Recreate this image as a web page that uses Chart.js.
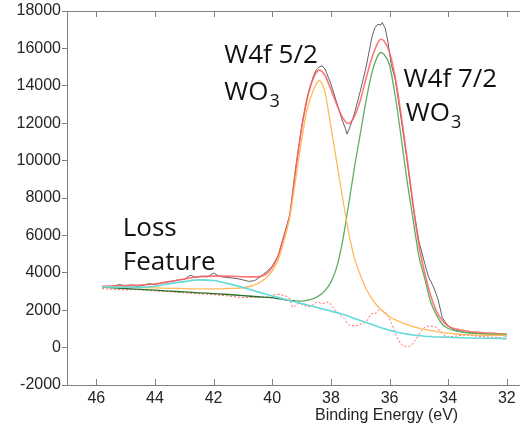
<!DOCTYPE html>
<html>
<head>
<meta charset="utf-8">
<script src="https://cdn.jsdelivr.net/npm/chart.js@4/dist/chart.umd.min.js"></script>
<style>
  html, body { margin: 0; padding: 0; background: #fff; overflow: hidden; }
</style>
</head>
<body>
<canvas id="chart" width="520" height="432"></canvas>
<script>
// tick labels
const xTicks = [46, 44, 42, 40, 38, 36, 34, 32]
const yTicks = [-2000, 0, 2000, 4000, 6000, 8000, 10000, 12000, 14000, 16000, 18000]

// raw spectrum (black)
const rawE = [45.8, 45.6, 45.4, 45.2, 45.0, 44.8, 44.6, 44.4, 44.2, 44.0, 43.8, 43.6, 43.4, 43.2, 43.0,
  42.8, 42.6, 42.4, 42.2, 42.0, 41.8, 41.6, 41.4, 41.2, 41.0, 40.8, 40.6, 40.4, 40.2, 40.0,
  39.8, 39.6, 39.4, 39.2, 39.0, 38.8, 38.6, 38.5, 38.4, 38.3, 38.2, 38.0, 37.8, 37.6, 37.5,
  37.45, 37.35, 37.2, 37.0, 36.8, 36.6, 36.5, 36.4, 36.3, 36.25, 36.15, 36.05, 35.95, 35.8, 35.6,
  35.4, 35.2, 35.0, 34.8, 34.67, 34.5, 34.35, 34.2, 34.0, 33.8, 33.6, 33.4, 33.2, 33.0, 32.8,
  32.6, 32.4, 32.2, 32.0]
const rawI = [3240, 3220, 3300, 3370, 3280, 3350, 3260, 3330, 3420, 3380, 3450, 3510, 3560, 3620, 3640,
  3870, 3760, 3820, 3790, 3990, 3800, 3760, 3730, 3690, 3620, 3540, 3580, 3800, 4050, 4350,
  4900, 6000, 7100, 9600, 11800, 13400, 14500, 14850, 15000, 15070, 14900, 14100, 13100, 12100, 11700,
  11420, 11800, 12500, 13700, 15000, 16600, 17100, 17290, 17250, 17380, 17100, 16300, 15200, 14300, 12200,
  10000, 7600, 5700, 4500, 3780, 3250, 2600, 1600, 1150, 950, 880, 820, 790, 780, 740,
  700, 690, 650, 620]

// fitted curves, shared energy grid
const fitE = [45.8, 45, 44.5, 44, 43.5, 43, 42.5, 42, 41.5, 41, 40.5, 40.2, 40, 39.8, 39.6, 39.4,
  39.2, 39, 38.8, 38.6, 38.4, 38.2, 38, 37.8, 37.6, 37.4, 37.2, 37, 36.8, 36.6, 36.4, 36.3,
  36.2, 36, 35.8, 35.6, 35.4, 35.2, 35, 34.8, 34.6, 34.4, 34.2, 34, 33.6, 33.2, 32.6, 32]
const envelope = [3280, 3320, 3350, 3400, 3530, 3670, 3790, 3820, 3820, 3790, 3780, 3950, 4300, 4900, 5950, 7100,
  9500, 11700, 13400, 14400, 14840, 14550, 13800, 13000, 12300, 11980, 12350, 13200, 14400, 15500, 16300, 16490,
  16420, 15800, 14400, 12400, 10100, 7700, 5500, 4000, 2800, 1950, 1450, 1150, 950, 850, 780, 720]
const w52 = [3250, 3230, 3210, 3190, 3170, 3150, 3140, 3140, 3160, 3200, 3420, 3750, 4100, 4700, 5700, 7000,
  9000, 11100, 12800, 13750, 14270, 13650, 11800, 9900, 8000, 6200, 4800, 3900, 3150, 2600, 2200, 2050,
  1900, 1650, 1480, 1350, 1230, 1120, 1040, 970, 910, 860, 810, 770, 710, 680, 660, 650]
const w72 = [3240, 3160, 3110, 3070, 3020, 2980, 2930, 2890, 2840, 2780, 2720, 2690, 2670, 2620, 2570, 2530,
  2500, 2480, 2520, 2620, 2780, 3050, 3500, 4300, 5700, 7600, 9600, 11400, 13200, 14700, 15600, 15780,
  15700, 15100, 13400, 11200, 8900, 6900, 4900, 3700, 2450, 1750, 1250, 1020, 850, 770, 720, 700]
const loss = [3240, 3240, 3220, 3280, 3420, 3530, 3620, 3590, 3420, 3220, 2980, 2850, 2760, 2680, 2600, 2520,
  2440, 2360, 2280, 2200, 2110, 2030, 1950, 1870, 1780, 1680, 1560, 1450, 1340, 1230, 1120, 1070,
  1020, 930, 850, 780, 720, 670, 640, 610, 590, 570, 560, 550, 530, 510, 500, 490]

// residual (red dotted)
const resE = [45.8, 45.4, 45.0, 44.6, 44.2, 44.0, 43.5, 43.0, 42.5, 42.0, 41.5, 41.0, 40.5, 40.2, 40.0,
  39.8, 39.6, 39.4, 39.3, 39.1, 38.9, 38.75, 38.6, 38.45, 38.3, 38.1, 37.9, 37.7, 37.55, 37.37,
  37.16, 37.0, 36.8, 36.6, 36.45, 36.37, 36.15, 35.93, 35.7, 35.5, 35.35, 35.12, 34.9, 34.67, 34.4,
  34.22, 33.98, 33.7, 33.42, 32.96, 32.6, 32.28, 32.06]
const resI = [3150, 3120, 3090, 3100, 3060, 3030, 2990, 2930, 2880, 2830, 2760, 2680, 2700, 2700, 2800,
  2850, 2780, 2600, 2150, 2360, 2250, 2180, 2300, 2440, 2350, 2440, 2090, 1750, 1560, 1200,
  1180, 1250, 1380, 1820, 1850, 2000, 1910, 1290, 400, 80, 50, 400, 930, 1150, 1080,
  760, 580, 620, 670, 610, 560, 540, 440]

const pts = (xs, ys) => xs.map((e, i) => ({ x: e, y: ys[i] }))

const tickFont = { family: '"Liberation Sans", Arial, sans-serif', size: 16 }

const decor = {
  id: 'decor',
  afterDraw(chart) {
    const { ctx, chartArea: a, scales: { x, y } } = chart
    ctx.save()
    // top frame line and inward x ticks
    ctx.strokeStyle = '#808080'
    ctx.lineWidth = 1
    ctx.beginPath()
    ctx.moveTo(a.left, a.top + 0.5)
    ctx.lineTo(a.right, a.top + 0.5)
    xTicks.forEach((v) => {
      const px = Math.round(x.getPixelForValue(v)) + 0.5
      ctx.moveTo(px, a.top)
      ctx.lineTo(px, a.top + 6)
      ctx.moveTo(px, a.bottom)
      ctx.lineTo(px, a.bottom - 6)
    })
    ctx.stroke()

    // axis title
    ctx.fillStyle = '#262626'
    ctx.font = '16px "Liberation Sans", Arial, sans-serif'
    ctx.textAlign = 'center'
    ctx.textBaseline = 'middle'
    ctx.fillText('Binding Energy (eV)', x.getPixelForValue(36.1), a.bottom + 31)

    // peak annotations
    const notes = [
      { t: 'W4f 5/2', e: 41.64, v: 15230 },
      { t: 'WO', sub: '3', e: 41.64, v: 13250 },
      { t: 'W4f 7/2', e: 35.52, v: 13950 },
      { t: 'WO', sub: '3', e: 35.45, v: 12130 },
      { t: 'Loss', e: 45.1, v: 5950 },
      { t: 'Feature', e: 45.1, v: 4130 },
    ]
    ctx.fillStyle = '#111'
    ctx.textAlign = 'left'
    ctx.textBaseline = 'alphabetic'
    notes.forEach((n) => {
      const px = x.getPixelForValue(n.e)
      const py = y.getPixelForValue(n.v)
      ctx.font = '26px "Open Sans", sans-serif'
      ctx.fillText(n.t, px, py)
      if (n.sub) {
        const w = ctx.measureText(n.t).width
        ctx.font = '18px "Open Sans", sans-serif'
        ctx.fillText(n.sub, px + w + 1, py + 7)
      }
    })
    ctx.restore()
  },
}

const ctx = document.getElementById('chart').getContext('2d')

const chart = new Chart(ctx, {
  type: 'line',
  data: {
    datasets: [
      {
        label: 'Loss feature',
        data: pts(fitE, loss),
        borderColor: 'rgb(100, 218, 218)',
        borderWidth: 1.6,
        cubicInterpolationMode: 'monotone',
      },
      {
        label: 'W4f 5/2',
        data: pts(fitE, w52),
        borderColor: 'rgb(255, 186, 90)',
        borderWidth: 1.3,
        cubicInterpolationMode: 'monotone',
      },
      {
        label: 'W4f 7/2',
        data: pts(fitE, w72),
        borderColor: 'rgb(96, 175, 96)',
        borderWidth: 1.3,
        cubicInterpolationMode: 'monotone',
        segment: {
          // tail over the background is drawn darker
          borderColor: (c) => (c.p0.parsed.x > 39.3 ? 'rgb(40, 110, 40)' : undefined),
        },
      },
      {
        label: 'Residual',
        data: pts(resE, resI),
        borderColor: 'rgb(255, 95, 95)',
        borderWidth: 1,
        borderDash: [2, 2],
        cubicInterpolationMode: 'monotone',
      },
      {
        label: 'Envelope',
        data: pts(fitE, envelope),
        borderColor: 'rgba(255, 95, 95, 0.85)',
        borderWidth: 1.6,
        cubicInterpolationMode: 'monotone',
      },
      {
        label: 'Raw',
        data: pts(rawE, rawI),
        borderColor: 'rgba(70, 70, 70, 0.85)',
        borderWidth: 1,
        tension: 0,
      },
    ],
  },
  options: {
    responsive: false,
    animation: false,
    devicePixelRatio: 1,
    elements: { point: { radius: 0 } },
    layout: { padding: { top: 11, right: 0, left: 0, bottom: 0 } },
    plugins: { legend: { display: false }, tooltip: { enabled: false } },
    scales: {
      x: {
        type: 'linear',
        reverse: true,
        min: 31.55,
        max: 47,
        afterBuildTicks: (axis) => { axis.ticks = xTicks.map((v) => ({ value: v })) },
        afterFit: (axis) => { axis.height = 47 },
        ticks: { font: tickFont, color: '#262626', padding: 4, maxRotation: 0, callback: (v) => String(v) },
        grid: { display: false, drawTicks: false },
        border: { display: true, color: '#808080' },
      },
      y: {
        min: -2000,
        max: 18000,
        afterBuildTicks: (axis) => { axis.ticks = yTicks.map((v) => ({ value: v })) },
        afterFit: (axis) => { axis.width = 67 },
        ticks: { font: tickFont, color: '#262626', padding: 1, callback: (v) => String(v) },
        grid: { drawOnChartArea: false, tickLength: 5, color: '#808080' },
        border: { display: true, color: '#808080' },
      },
    },
  },
  plugins: [decor],
})
</script>
</body>
</html>
